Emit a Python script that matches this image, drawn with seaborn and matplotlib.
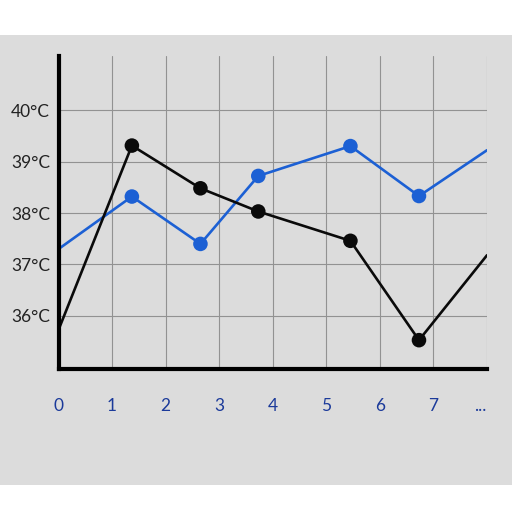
import matplotlib
matplotlib.use("Agg")
import matplotlib.pyplot as plt
import seaborn as sns
import pandas as pd
from matplotlib.patches import Rectangle
from matplotlib.transforms import ScaledTranslation

# ---- data ----
x_vals = [0, 1.37, 2.65, 3.73, 5.45, 6.73, 8]
black_temp = [35.73, 39.31, 38.48, 38.03, 37.46, 35.53, 37.18]
blue_temp = [37.30, 38.32, 37.40, 38.72, 39.30, 38.33, 39.22]
has_marker = [False, True, True, True, True, True, False]
y_ticks = [36, 37, 38, 39, 40]
y_tick_labels = ["36°C", "37°C", "38°C", "39°C", "40°C"]
x_ticks = [0, 1, 2, 3, 4, 5, 6, 7, 8]
x_tick_labels = ["0", "1", "2", "3", "4", "5", "6", "7", "..."]

BG = "#dcdcdc"
BLUE = "#1c60d4"
BLACK = "#0a0a0a"

df = pd.DataFrame({
    "x": x_vals * 2,
    "temp": blue_temp + black_temp,
    "series": ["blue"] * len(x_vals) + ["black"] * len(x_vals),
    "marker": has_marker * 2,
})

sns.set_theme(style="white")
plt.rcParams["font.family"] = ["Lato", "DejaVu Sans"]

fig = plt.figure(figsize=(5.12, 5.12), dpi=100, facecolor="white")
bg_rect = Rectangle((0, 1 - 485 / 512), 1, 450 / 512,
                    transform=fig.transFigure, facecolor=BG,
                    edgecolor="none", zorder=-10)
fig.patches.append(bg_rect)
ax = fig.add_axes([58.5 / 512, 1 - 369 / 512, (487 - 58.5) / 512, (369 - 56) / 512])
ax.set_zorder(1)
ax.set_facecolor(BG)

palette = {"blue": BLUE, "black": BLACK}
sns.lineplot(data=df, x="x", y="temp", hue="series", palette=palette,
             linewidth=1.9, legend=False, ax=ax, sort=False, zorder=3)
sns.scatterplot(data=df[df["marker"]], x="x", y="temp", hue="series",
                palette=palette, s=110, edgecolor="none", legend=False,
                ax=ax, zorder=4)

ax.set_xlim(0, 8)
ax.set_ylim(34.97, 41.05)
ax.set_xticks(x_ticks)
ax.set_xticklabels(x_tick_labels)
ax.set_yticks(y_ticks)
ax.set_yticklabels(y_tick_labels)
ax.set_xlabel("")
ax.set_ylabel("")

ax.grid(True, color="#929292", linewidth=0.8)
ax.set_axisbelow(True)

for s in ["top", "right"]:
    ax.spines[s].set_visible(False)
for s in ["left", "bottom"]:
    ax.spines[s].set_color("black")
    ax.spines[s].set_linewidth(3.0)
    ax.spines[s].set_zorder(5)

ax.tick_params(axis="x", length=0, pad=21, labelsize=12.5, labelcolor="#1b3a9a")
ax.tick_params(axis="y", length=0, pad=6, labelsize=12.5, labelcolor="#222222")

last = ax.get_xticklabels()[-1]
last.set_transform(last.get_transform() + ScaledTranslation(-0.07, 0, fig.dpi_scale_trans))

fig.savefig("out.png", dpi=100, facecolor="white")
